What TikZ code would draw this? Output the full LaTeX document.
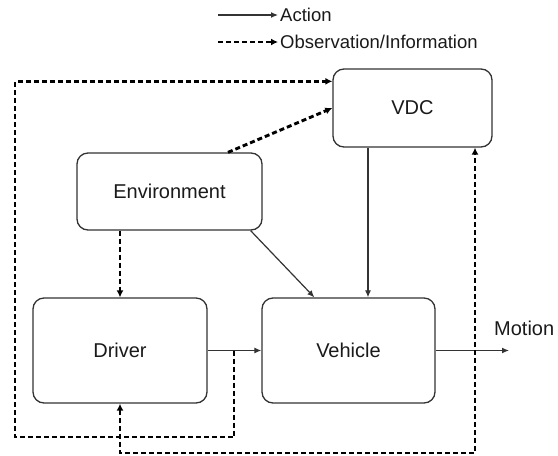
\documentclass[tikz,border=0pt]{standalone}
\usepackage{fontspec}
\setmainfont{Liberation Sans}
\usetikzlibrary{arrows.meta,calc}
\definecolor{edge}{HTML}{333333}
\definecolor{ink}{HTML}{1a1a1a}
\tikzset{
  block/.style={draw=edge, line width=1.3pt, rounded corners=11pt, fill=white,
    inner sep=0pt, text=ink, font=\fontsize{20}{24}\selectfont},
  act/.style={draw=edge, line width=1.2pt, -{Latex[length=7pt,width=6pt]}},
  obs/.style={draw=black, line width=2.9pt, dash pattern=on 5pt off 3pt,
    -{Latex[length=7pt,width=7pt]}},
  legendtext/.style={anchor=west, inner sep=0pt, text=ink,
    font=\fontsize{18.5}{22}\selectfont},
}
\begin{document}
\begin{tikzpicture}[x=1pt,y=-1pt]
\useasboundingbox (0,0) rectangle (558,456);

% legend
\coordinate (la0) at (218,15);
\coordinate (la1) at (278,15);
\coordinate (lo0) at (218,42);
\coordinate (lo1) at (278,42);
\draw[act] (la0) -- (la1);
\draw[obs] (lo0) -- (lo1);
\node[legendtext] (lacttxt) at (280,15) {Action};
\node[legendtext] (lobstxt) at (280,42) {Observation/Information};

% blocks
\node[block, minimum width=159pt, minimum height=78pt] (VDC) at (412.5,108) {VDC};
\node[block, minimum width=185pt, minimum height=77pt] (Env) at (169.5,191.5) {Environment};
\node[block, minimum width=174pt, minimum height=105pt] (Driver) at (120,350.5) {Driver};
\node[block, minimum width=173pt, minimum height=105pt] (Vehicle) at (348.5,350.5) {Vehicle};

% helper points
\coordinate (motion) at (509,350.5);
\coordinate (tapA) at (234,350.5);
\coordinate (loopA) at (15,437);
\coordinate (loopB) at (475,453);
\coordinate (vdcin) at ($(VDC.north west)+(0,13)$);
\coordinate (envout) at ($(Env.north)+(58.5,0)$);
\coordinate (vx) at (368,0);

\node[anchor=west, inner sep=0pt, text=ink, font=\fontsize{20}{24}\selectfont]
  (motiontxt) at (494,328) {Motion};

% actions
\draw[act] (Driver.east) -- (Vehicle.west);
\draw[act] (Vehicle.east) -- (motion);
\draw[act] (VDC.south -| vx) -- (Vehicle.north -| vx);
\draw[act] ($(Env.south east)+(-12,0)$) -- ($(Vehicle.north west)+(53,0)$);

% observations
\draw[obs] (Driver.north |- Env.south) -- (Driver.north);
\draw[obs] (envout) -- (VDC.west);
\draw[obs] (tapA) |- (loopA) |- (vdcin);
\draw[obs, {Latex[length=7pt,width=7pt]}-{Latex[length=7pt,width=7pt]}]
  (Driver.south) |- (loopB) -- (loopB |- VDC.south);
\end{tikzpicture}
\end{document}
